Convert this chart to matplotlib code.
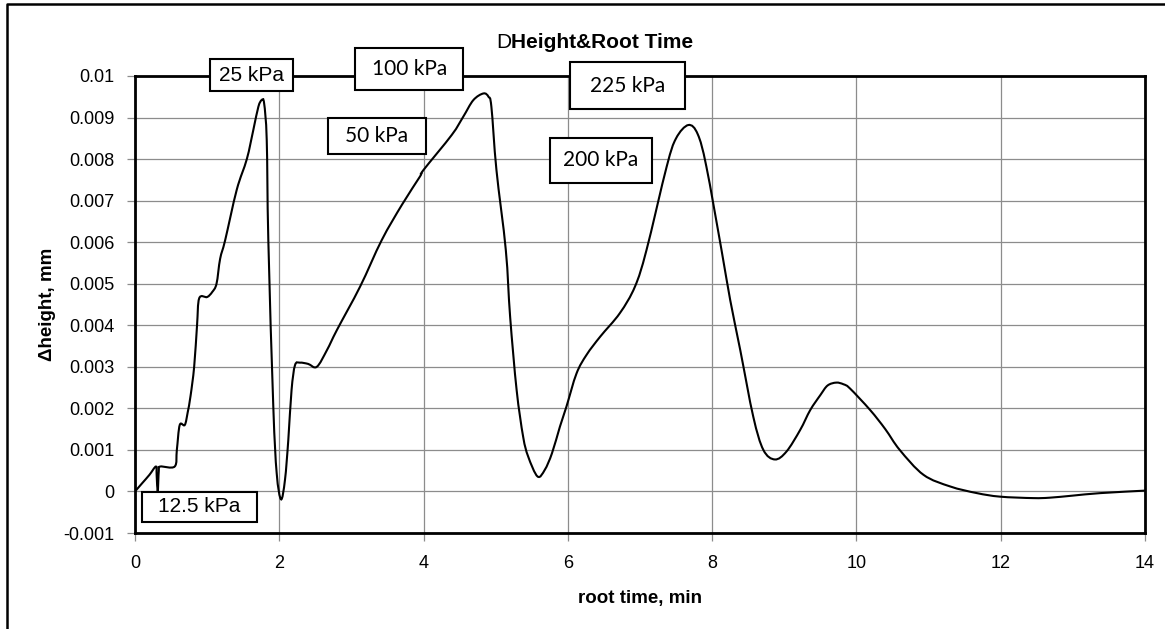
import matplotlib
matplotlib.use("Agg")
import matplotlib.pyplot as plt
from matplotlib.lines import Line2D
from matplotlib.patches import Rectangle, PathPatch
from matplotlib.path import Path

plt.rcParams['font.family'] = ['Liberation Sans', 'DejaVu Sans']

# root time (min) and change of height (mm)
root_time = [0.00, 0.10, 0.20, 0.29, 0.30, 0.315, 0.33, 0.35, 0.55, 0.58, 0.62, 0.69,
             0.73, 0.77, 0.82, 0.86, 0.89, 1.00, 1.07, 1.13, 1.18, 1.25, 1.41, 1.55,
             1.64, 1.71, 1.756, 1.79, 1.826, 1.848, 1.917, 1.964, 2.024, 2.079, 2.125,
             2.17, 2.218, 2.287, 2.40, 2.52, 2.66, 2.80, 3.12, 3.42, 3.70, 3.95, 4.00,
             4.39, 4.55, 4.69, 4.83, 4.90, 4.94, 5.01, 5.14, 5.20, 5.29, 5.38, 5.45,
             5.58, 5.68, 5.78, 5.89, 5.98, 6.12, 6.26, 6.45, 6.72, 6.93, 7.09, 7.37,
             7.50, 7.67, 7.80, 7.92, 8.13, 8.25, 8.39, 8.57, 8.71, 8.87, 9.03, 9.22,
             9.36, 9.50, 9.60, 9.72, 9.82, 9.91, 10.19, 10.40, 10.60, 10.93, 11.30,
             11.67, 11.99, 12.45, 12.68, 13.00, 13.38, 14.00]
d_height = [0.0, 0.0002, 0.0004, 0.0006, 0.0004, 0.0, 0.0005, 0.0006, 0.0006, 0.0010,
            0.0016, 0.0016, 0.0019, 0.0023, 0.0030, 0.0040, 0.00465, 0.00468, 0.0048,
            0.0050, 0.0056, 0.00605, 0.00726, 0.0080, 0.0087, 0.00926, 0.00942, 0.00934,
            0.00846, 0.00605, 0.00204, 0.00044, -0.00019, 0.00028, 0.00124, 0.00244,
            0.00304, 0.0031, 0.00307, 0.0030, 0.0034, 0.00389, 0.00493, 0.00605, 0.0069,
            0.00758, 0.00774, 0.00858, 0.00902, 0.00942, 0.00958, 0.0095, 0.00926,
            0.00774, 0.00581, 0.0042, 0.00244, 0.00132, 0.00084, 0.00036, 0.00052,
            0.00092, 0.00156, 0.00204, 0.00284, 0.00329, 0.00373, 0.00429, 0.00493,
            0.00581, 0.00782, 0.0085, 0.00882, 0.0086, 0.00782, 0.00581, 0.00461, 0.0034,
            0.0018, 0.0010, 0.00077, 0.00096, 0.00148, 0.00196, 0.00232, 0.00255,
            0.00262, 0.00258, 0.00248, 0.00196, 0.0015, 0.0010, 0.0004, 0.00012,
            -0.00004, -0.000125, -0.00016, -0.00015, -0.0001, -0.00004, 0.00002]

x_ticks = [0, 2, 4, 6, 8, 10, 12, 14]
y_ticks = [-0.001, 0, 0.001, 0.002, 0.003, 0.004, 0.005, 0.006, 0.007, 0.008, 0.009, 0.01]
y_tick_labels = ['-0.001', '0', '0.001', '0.002', '0.003', '0.004', '0.005', '0.006',
                 '0.007', '0.008', '0.009', '0.01']

# pressure boxes: label, centre x, centre y, width, height, font
box_labels = ['25 kPa', '100 kPa', '50 kPa', '225 kPa', '200 kPa', '12.5 kPa']
box_x = [1.615, 3.80, 3.355, 6.83, 6.46, 0.89]
box_y = [0.01002, 0.01017, 0.00856, 0.00976, 0.00797, -0.000366]
box_w = [1.15, 1.50, 1.36, 1.59, 1.41, 1.59]
box_h = [0.00077, 0.00101, 0.00087, 0.00113, 0.00108, 0.00072]
box_font = ['Liberation Sans', 'Lato', 'Lato', 'Lato', 'Lato', 'Liberation Sans']


def smooth_path(xs, ys):
    # Excel style smoothed line: bezier segments through every point
    verts = [(xs[0], ys[0])]
    codes = [Path.MOVETO]
    n = len(xs)
    for i in range(n - 1):
        x0, y0 = (xs[i - 1], ys[i - 1]) if i > 0 else (xs[i], ys[i])
        x1, y1 = xs[i], ys[i]
        x2, y2 = xs[i + 1], ys[i + 1]
        x3, y3 = (xs[i + 2], ys[i + 2]) if i + 2 < n else (x2, y2)
        verts += [(x1 + (x2 - x0) / 6, y1 + (y2 - y0) / 6),
                  (x2 - (x3 - x1) / 6, y2 - (y3 - y1) / 6),
                  (x2, y2)]
        codes += [Path.CURVE4] * 3
    return Path(verts, codes)


fig = plt.figure(figsize=(11.65, 6.29), dpi=100)
ax = fig.add_axes([135 / 1165, 1 - 533 / 629, 1010 / 1165, 457 / 629])

ax.add_patch(PathPatch(smooth_path(root_time, d_height), facecolor='none',
                       edgecolor='black', lw=1.5, zorder=3))

ax.set_xlim(0, 14)
ax.set_ylim(-0.001, 0.01)
ax.set_xticks(x_ticks)
ax.set_yticks(y_ticks)
ax.set_yticklabels(y_tick_labels)
ax.grid(True, color='#8c8c8c', lw=0.9)
ax.set_axisbelow(True)
ax.tick_params(direction='out', length=6, width=0.9, color='#8c8c8c', labelsize=13)
ax.tick_params(axis='y', pad=9)
ax.tick_params(axis='x', pad=10)
for s in ax.spines.values():
    s.set_color('black')
    s.set_linewidth(2)

ax.set_xlabel('root time, min', fontsize=13.5, fontweight='bold', labelpad=13)
ax.set_ylabel('\u0394height, mm', fontsize=13.5, fontweight='bold', labelpad=5)

for lab, x, y, w, h, f in zip(box_labels, box_x, box_y, box_w, box_h, box_font):
    ax.add_patch(Rectangle((x - w / 2, y - h / 2), w, h, facecolor='white',
                           edgecolor='black', lw=1.5, zorder=5, clip_on=False))
    ax.text(x, y, lab, ha='center', va='center', fontsize=15, family=f,
            zorder=6, clip_on=False)

# title: the delta fell back to a plain "D"
fig.text(511 / 1165, 1 - 42 / 629, 'D', ha='right', va='center', fontsize=15)
fig.text(511 / 1165, 1 - 42 / 629, 'Height&Root Time', ha='left', va='center',
         fontsize=15, fontweight='bold')

# outer chart frame
fig.add_artist(Line2D([7 / 1165, 7 / 1165, 1], [0, 1 - 4 / 629, 1 - 4 / 629],
                      color='black', lw=1.8, transform=fig.transFigure))

fig.savefig('out.png', dpi=100)
